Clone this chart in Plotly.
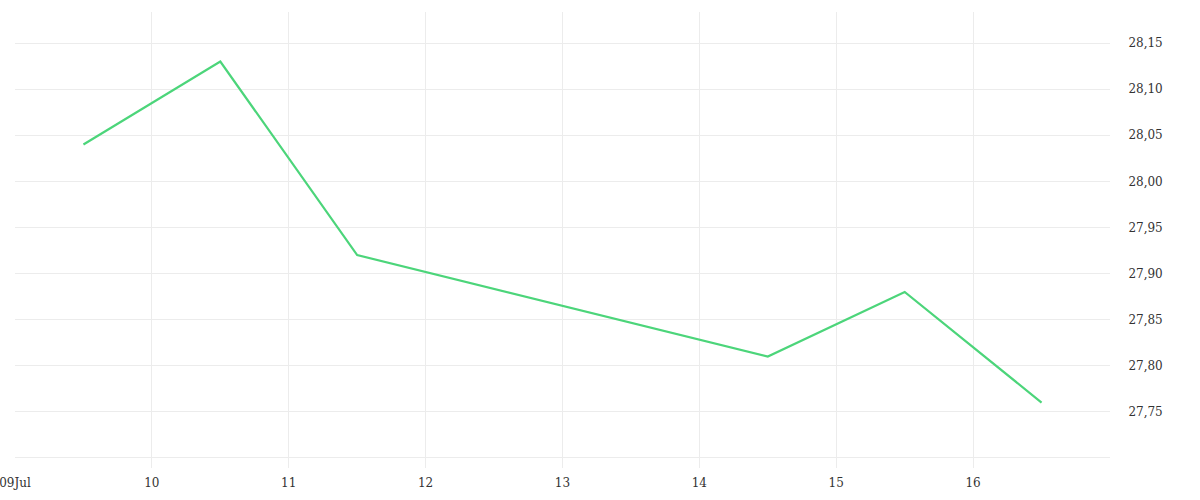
import plotly.graph_objects as go

dates = ["2024-07-09 12:00", "2024-07-10 12:00", "2024-07-11 12:00",
         "2024-07-14 12:00", "2024-07-15 12:00", "2024-07-16 12:00"]
values = [28.04, 28.13, 27.92, 27.81, 27.88, 27.76]

x_tickvals = ["2024-07-09", "2024-07-10", "2024-07-11", "2024-07-12", "2024-07-13",
              "2024-07-14", "2024-07-15", "2024-07-16", "2024-07-17"]
x_ticktext = ["09Jul", "10", "11", "12", "13", "14", "15", "16", ""]
y_tickvals = [27.70, 27.75, 27.80, 27.85, 27.90, 27.95, 28.00, 28.05, 28.10, 28.15]
y_ticktext = ["", "27,75", "27,80", "27,85", "27,90", "27,95", "28,00", "28,05", "28,10", "28,15"]

fig = go.Figure()
fig.add_trace(go.Scatter(x=dates, y=values, mode="lines",
                         line=dict(color="#4cd57a", width=2.2), hoverinfo="x+y"))

font = dict(family="'DejaVu Serif', 'Liberation Serif', serif", size=12, color="#333333")
fig.update_layout(
    width=1200, height=500,
    margin=dict(l=15, r=90, t=12, b=32),
    plot_bgcolor="white", paper_bgcolor="white",
    showlegend=False,
    separators=",.",
    font=font,
    xaxis=dict(
        type="date",
        range=["2024-07-09", "2024-07-17"],
        tickmode="array", tickvals=x_tickvals, ticktext=x_ticktext,
        showgrid=True, gridcolor="#ececec", gridwidth=1,
        zeroline=False, showline=False, automargin=False,
        ticklabeloverflow="allow",
        ticks="outside", ticklen=4, tickcolor="rgba(0,0,0,0)", tickfont=font,
    ),
    yaxis=dict(
        side="right",
        range=[27.689, 28.1837],
        tickmode="array", tickvals=y_tickvals, ticktext=y_ticktext,
        showgrid=True, gridcolor="#ececec", gridwidth=1,
        zeroline=False, showline=False, automargin=False,
        ticklabeloverflow="allow",
        ticks="outside", ticklen=15, tickcolor="rgba(0,0,0,0)",
        tickfont=font,
    ),
)
fig.write_html("out.html",
               config={"displayModeBar": False},
               post_script="document.body.style.margin='0';document.body.style.overflow='hidden';")
